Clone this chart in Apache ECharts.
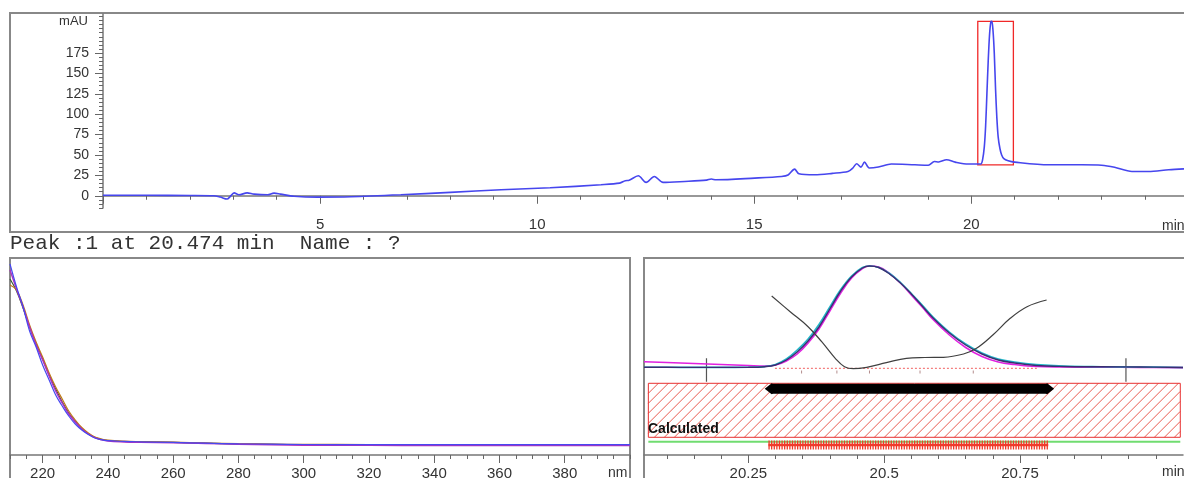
<!DOCTYPE html>
<html><head><meta charset="utf-8">
<script src="https://cdn.jsdelivr.net/npm/echarts@6/dist/echarts.min.js"></script>
<style>html,body{margin:0;padding:0;background:#fff}#c{width:1184px;height:478px}</style>
</head><body><div id="c"></div>
<script>
// ---- Top chromatogram (min, mAU) ----
const chromTime = [0,1.0,2.0,2.55,2.70,2.86,2.93,3.02,3.13,3.32,3.48,3.79,3.94,4.09,4.40,4.94,5.71,6.86,8.0,9.17,10.3,11.47,11.90,12.03,12.12,12.33,12.51,12.70,12.90,13.40,13.90,14.01,14.12,15.01,15.63,15.78,15.93,16.03,16.39,16.8,17.16,17.27,17.36,17.46,17.54,17.65,17.86,18.16,18.70,19.01,19.15,19.25,19.43,19.63,19.93,20.22,20.26,20.30,20.33,20.36,20.39,20.42,20.45,20.474,20.50,20.53,20.56,20.59,20.62,20.66,20.70,20.75,20.85,21.0,21.78,22.55,23.0,23.3,23.70,24.08,24.55,24.9];
const chromMAU  = [0.6,0.6,0.4,0.0,-1.6,-4,-1,3.5,1.2,3.5,2,1.2,3.2,2,-0.5,-1.6,-1.2,1.2,4.2,7.4,9.8,13.5,15.5,18.5,19,24.5,16.4,23.7,16.4,17.6,19.2,20.5,19.6,21.7,23.7,25.5,32.7,27,25.8,27.5,29.8,34,39.3,35.2,41.3,34,35.2,38.9,38,37.5,42,41.5,44.2,41.3,38.9,39,44,60,85,125,165,197,213,214,203,175,130,95,72,58,50,45.5,43,41.3,38,38,37.5,35,29.8,29.8,32,33];
const chromYLabels = [0,25,50,75,100,125,150,175];
const chromYMinor = [-15,-10,-5,5,10,15,20,30,35,40,45,55,60,65,70,80,85,90,95,105,110,115,120,130,135,140,145,155,160,165,170,180,185,190,195,200,205,210,215,220];
const peakWindowTime = [20.15, 20.97];
const peakWindowMAU = [38, 214];
const peakText = 'Peak :1 at 20.474 min  Name : ?';

// ---- Spectra (nm, relative absorbance) ----
const specNm   = [210,212,214,216,218,220,222,224,226,228,230,232,234,236,238,240,245,250,260,270,280,290,300,320,340,360,380,400];
const specBlue = [191,168,148,124,108,90,75,60,49,39,31,25,20.5,17,15.3,14.3,13.6,13.2,12.6,11.8,11.2,10.8,10.5,10.4,10.3,10.3,10.3,10.3];
const specBrown= [170,165,150,130,113,98,82,68,56,44,35,27.5,22,18,16,14.8,13.8,13.4,12.8,12,11.3,10.9,10.6,10.5,10.4,10.4,10.4,10.4];
const specMag  = [185,166,148,128,110,95,79,64,52,41,33,26,21,17.3,15.2,13.9,13,12.6,12.2,11.5,10.8,10.2,9.8,9.6,9.5,9.5,9.5,9.5];
const specDark = [176,164,147,128,111,96,80,66,53,42,33.5,26.5,21.2,17.6,15.6,14.5,13.5,13.2,12.6,11.8,11.1,10.7,10.4,10.3,10.2,10.2,10.2,10.2];
const specXLabels = [220,240,260,280,300,320,340,360,380];
const specXMinor = [210,215,225,230,235,245,250,255,265,270,275,285,290,295,305,310,315,325,330,335,345,350,355,365,370,375,385,390,395,400];

// ---- Purity panel (min, relative) ----
const purTime = [20.058,20.10,20.15,20.20,20.25,20.28,20.30,20.32,20.34,20.36,20.38,20.40,20.42,20.44,20.46,20.473,20.49,20.51,20.53,20.55,20.57,20.59,20.62,20.65,20.68,20.71,20.74,20.78,20.83,20.90,20.97,21.05];
const purDark = [87.7,87.7,87.6,87.6,87.7,88.3,90,95,103,114,128,146,164,178,187,189,187.5,181,172,161,149,137,122,110,101,95,92,89.5,88.5,88.2,88,87.5];
const purCyan = [87.7,87.7,87.6,87.6,87.7,88.4,90.5,96,105,116,130.5,148,165.5,179,187.5,189,187.5,181.5,172.5,161.5,150,138,123,111,102,96,93,90.5,89,88.3,88,87.5];
const purMag  = [93.3,92.5,91.5,90.5,89.5,89,90,94,101,112,126,144,162,177,186.5,189,188,181.5,172,160,148,135.5,120,107.5,98.5,93,90.5,88.5,88,87.8,87.6,87.4];
const simTime = [20.293,20.327,20.36,20.385,20.41,20.427,20.443,20.468,20.504,20.541,20.575,20.609,20.646,20.67,20.70,20.732,20.763,20.799];
const simVal  = [159,143.3,128.3,113.3,96.7,88.3,86.3,87.7,92.3,96.7,97.5,97.7,101,106.7,120,136.7,148.3,155];
const purXLabels = [20.25,20.5,20.75];
const purXMinor = [20.1,20.15,20.2,20.3,20.35,20.4,20.45,20.55,20.6,20.65,20.7,20.8,20.85,20.9,20.95,21.0];
const purBaseTime = [20.299,20.781];
const purBaseVal = 86.7;
const purDots = [20.348,20.413,20.473,20.566,20.664];
const purLimits = [20.173,20.945];
const purLimitVal = [73.3,96.7];
const calcBox = [20.066,21.045,17.7,71.7];
const calcBand = {t:[20.293,20.800], v:66.3};
const greenLine = {t:[20.066,21.045], v:13.3};
const redBand = {t:[20.287,20.802], v:10};

const zip=(a,b)=>a.map((x,i)=>[x,b[i]]);
const FONT='Liberation Sans';
const lbl={color:'#333',fontSize:15,fontFamily:FONT};
const axLine={show:true,lineStyle:{color:'#777',width:1.5}};
const tickStyle={color:'#666'};

function hatchRender(params, api){
  const a=api.coord([api.value(0),api.value(3)]);
  const b=api.coord([api.value(1),api.value(2)]);
  const x0=a[0],y0=a[1],x1=b[0],y1=b[1];
  const h=y1-y0; const step=10; const children=[];
  for(let k=x0-h;k<x1;k+=step){
    let sx=k, sy=y1, ex=k+h, ey=y0;
    if(sx<x0){ sy=y1-(x0-sx); sx=x0; }
    if(ex>x1){ ey=y0+(ex-x1); ex=x1; }
    if(ex<=sx) continue;
    children.push({type:'line',shape:{x1:sx,y1:sy,x2:ex,y2:ey},style:{stroke:'#ea5a4e',lineWidth:1}});
  }
  children.push({type:'rect',shape:{x:x0,y:y0,width:x1-x0,height:h},style:{fill:null,stroke:'#e83030',lineWidth:1}});
  return {type:'group',children};
}

const chart=echarts.init(document.getElementById('c'),null,{renderer:'canvas'});
chart.setOption({
  animation:false,
  backgroundColor:'#fff',
  grid:[
    {left:103,top:14,width:1081,height:194,outerBoundsMode:'none',containLabel:false},
    {left:10,top:258,width:620,height:197,outerBoundsMode:'none',containLabel:false},
    {left:644,top:258,width:539,height:197,outerBoundsMode:'none',containLabel:false}
  ],
  xAxis:[
    {type:'value',gridIndex:0,position:'bottom',min:0,max:24.9,interval:5,axisLine:axLine,
     axisTick:{length:8,lineStyle:tickStyle},minorTick:{show:true,splitNumber:5,length:4,lineStyle:tickStyle},
     splitLine:{show:false},minorSplitLine:{show:false},axisLabel:Object.assign({margin:9,showMaxLabel:false,formatter:v=>(v===0)?'':String(v)},lbl)},
    {type:'value',gridIndex:1,position:'bottom',min:210,max:400,axisLine:axLine,splitLine:{show:false},
     axisTick:{customValues:specXLabels,length:8,lineStyle:tickStyle},
     axisLabel:Object.assign({customValues:specXLabels,margin:11},lbl)},
    {type:'value',gridIndex:1,position:'bottom',min:210,max:400,axisLine:{show:false},splitLine:{show:false},
     axisTick:{customValues:specXMinor,length:4,lineStyle:tickStyle},axisLabel:{show:false}},
    {type:'value',gridIndex:2,position:'bottom',min:20.058,max:21.05,axisLine:axLine,splitLine:{show:false},
     axisTick:{customValues:purXLabels,length:8,lineStyle:tickStyle},
     axisLabel:Object.assign({customValues:purXLabels,margin:11},lbl)},
    {type:'value',gridIndex:2,position:'bottom',min:20.058,max:21.05,axisLine:{show:false},splitLine:{show:false},
     axisTick:{customValues:purXMinor,length:4,lineStyle:tickStyle},axisLabel:{show:false}}
  ],
  yAxis:[
    {type:'value',gridIndex:0,position:'left',min:-15,max:223,axisLine:axLine,splitLine:{show:false},
     axisTick:{customValues:chromYLabels,length:8,lineStyle:tickStyle},
     axisLabel:Object.assign({customValues:chromYLabels,margin:14},lbl,{fontSize:14})},
    {type:'value',gridIndex:0,position:'left',min:-15,max:223,axisLine:{show:false},splitLine:{show:false},
     axisTick:{customValues:chromYMinor,length:4,lineStyle:tickStyle},axisLabel:{show:false}},
    {type:'value',gridIndex:1,min:0,max:197,show:false},
    {type:'value',gridIndex:2,min:0,max:197,show:false}
  ],
  series:[
    {type:'line',xAxisIndex:0,yAxisIndex:0,data:zip(chromTime,chromMAU),showSymbol:false,smooth:0.3,
     lineStyle:{color:'#4646ee',width:1.6},
     markArea:{silent:true,itemStyle:{color:'rgba(0,0,0,0)',borderColor:'#f02828',borderWidth:1.3},
       data:[[{xAxis:peakWindowTime[0],yAxis:peakWindowMAU[0]},{xAxis:peakWindowTime[1],yAxis:peakWindowMAU[1]}]]}},
    {type:'line',xAxisIndex:1,yAxisIndex:2,data:zip(specNm,specDark),showSymbol:false,smooth:0.4,lineStyle:{color:'#3a5a30',width:1.2}},
    {type:'line',xAxisIndex:1,yAxisIndex:2,data:zip(specNm,specBrown),showSymbol:false,smooth:0.4,lineStyle:{color:'#c07818',width:1.2}},
    {type:'line',xAxisIndex:1,yAxisIndex:2,data:zip(specNm,specMag),showSymbol:false,smooth:0.4,lineStyle:{color:'#b030c0',width:1.4}},
    {type:'line',xAxisIndex:1,yAxisIndex:2,data:zip(specNm,specBlue),showSymbol:false,smooth:0.4,lineStyle:{color:'#4848f0',width:1.2}},
    // purity panel decorations
    {type:'custom',xAxisIndex:3,yAxisIndex:3,data:[calcBox],renderItem:hatchRender,silent:true,z:1},
    {type:'line',xAxisIndex:3,yAxisIndex:3,data:zip(greenLine.t,[greenLine.v,greenLine.v]),showSymbol:false,lineStyle:{color:'#70dc70',width:2},z:2},
    {type:'line',xAxisIndex:3,yAxisIndex:3,data:zip(redBand.t,[redBand.v,redBand.v]),showSymbol:false,lineStyle:{color:'#f03a2a',width:9,type:[1.3,1.3]},z:3},
    {type:'line',xAxisIndex:3,yAxisIndex:3,data:zip(redBand.t,[redBand.v,redBand.v]),showSymbol:false,lineStyle:{color:'#f03a2a',width:2.5},z:3},
    {type:'line',xAxisIndex:3,yAxisIndex:3,data:zip(calcBand.t,[calcBand.v,calcBand.v]),symbol:'diamond',symbolSize:[14,11],showSymbol:true,
     itemStyle:{color:'#000'},lineStyle:{color:'#000',width:10},z:3},
    {type:'line',xAxisIndex:3,yAxisIndex:3,data:zip(purBaseTime,[purBaseVal,purBaseVal]),showSymbol:false,lineStyle:{color:'#f06060',width:1,type:[2,2]}},
    {type:'scatter',xAxisIndex:3,yAxisIndex:3,data:purDots.map(t=>[t,83]),symbol:'rect',symbolSize:[1,3],itemStyle:{color:'#a07070'}},
    {type:'line',xAxisIndex:3,yAxisIndex:3,data:[[purLimits[0],purLimitVal[0]],[purLimits[0],purLimitVal[1]]],showSymbol:false,lineStyle:{color:'#555',width:1.2}},
    {type:'line',xAxisIndex:3,yAxisIndex:3,data:[[purLimits[1],purLimitVal[0]],[purLimits[1],purLimitVal[1]]],showSymbol:false,lineStyle:{color:'#555',width:1.2}},
    {type:'line',xAxisIndex:3,yAxisIndex:3,data:zip(purTime,purMag),showSymbol:false,smooth:0.4,lineStyle:{color:'#e020e0',width:1.6}},
    {type:'line',xAxisIndex:3,yAxisIndex:3,data:zip(purTime,purCyan),showSymbol:false,smooth:0.4,lineStyle:{color:'#20b8c8',width:1.6}},
    {type:'line',xAxisIndex:3,yAxisIndex:3,data:zip(purTime,purDark),showSymbol:false,smooth:0.4,lineStyle:{color:'#3c2c70',width:1.4}},
    {type:'line',xAxisIndex:3,yAxisIndex:3,data:zip(simTime,simVal),showSymbol:false,smooth:0.4,lineStyle:{color:'#404040',width:1.2}}
  ],
  graphic:[
    {type:'rect',silent:true,z:-10,shape:{x:10,y:13,width:1200,height:219},style:{fill:'rgba(0,0,0,0)',stroke:'#888',lineWidth:2}},
    {type:'rect',silent:true,z:-10,shape:{x:10,y:258,width:620,height:240},style:{fill:'rgba(0,0,0,0)',stroke:'#888',lineWidth:2}},
    {type:'rect',silent:true,z:-10,shape:{x:644,y:258,width:560,height:240},style:{fill:'rgba(0,0,0,0)',stroke:'#888',lineWidth:2}},
    {type:'text',silent:true,x:88,y:21,style:{text:'mAU',fontSize:13,fontFamily:FONT,fill:'#333',align:'right',verticalAlign:'middle'}},
    {type:'text',silent:true,x:1162,y:226,style:{text:'min',fontSize:14,fontFamily:FONT,fill:'#333',verticalAlign:'middle'}},
    {type:'text',silent:true,x:10,y:243,style:{text:peakText,fontSize:21,fontFamily:'Liberation Mono',fill:'#333',verticalAlign:'middle'}},
    {type:'text',silent:true,x:608,y:473,style:{text:'nm',fontSize:14,fontFamily:FONT,fill:'#333',verticalAlign:'middle'}},
    {type:'text',silent:true,x:1162,y:472,style:{text:'min',fontSize:14,fontFamily:FONT,fill:'#333',verticalAlign:'middle'}},
    {type:'text',silent:true,x:648,y:429,z:50,style:{text:'Calculated',fontSize:14,fontWeight:'bold',fontFamily:FONT,fill:'#111',verticalAlign:'middle'}}
  ]
});
</script></body></html>
